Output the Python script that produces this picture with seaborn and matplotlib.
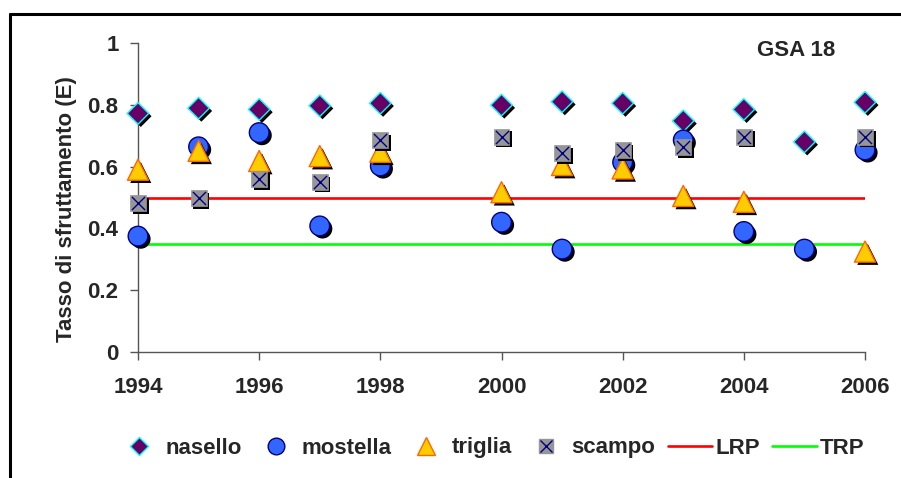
import numpy as np
import pandas as pd
import seaborn as sns
from matplotlib import pyplot as plt
from matplotlib.lines import Line2D
import matplotlib.patheffects as pe

# dati (1999 mancante per tutte le specie)
anni = [1994, 1995, 1996, 1997, 1998, 2000, 2001, 2002, 2003, 2004, 2005, 2006]
nasello = [0.772, 0.789, 0.785, 0.797, 0.805, 0.799, 0.810, 0.805, 0.748, 0.785, 0.680, 0.808]
mostella = [0.375, 0.664, 0.710, 0.408, 0.602, 0.420, 0.333, 0.614, 0.686, 0.390, 0.333, 0.654]
triglia = [0.590, 0.651, 0.618, 0.634, 0.648, 0.517, 0.605, 0.594, 0.505, 0.486, np.nan, 0.325]
scampo = [0.481, 0.499, 0.560, 0.551, 0.686, 0.697, 0.643, 0.654, 0.664, 0.697, np.nan, 0.697]
lrp = [0.5, 0.5]
trp = [0.35, 0.35]
anni_rif = [1994, 2006]

sns.set_style('white')
plt.rcParams['font.family'] = ['Liberation Sans', 'DejaVu Sans']
plt.rcParams['font.weight'] = 'bold'
FS = 16

df = pd.DataFrame({'anno': anni, 'nasello': nasello, 'mostella': mostella,
                   'triglia': triglia, 'scampo': scampo})

fig = plt.figure(figsize=(9.01, 4.78), dpi=100)
ax = fig.add_axes([138/901, 1-352/478, 727/901, 309/478])

ombra = [pe.SimplePatchShadow(offset=(2, -2), shadow_rgbFace='black', alpha=1), pe.Normal()]

# linee di riferimento
sns.lineplot(x=anni_rif, y=lrp, color='#FF0000', linewidth=1.9, ax=ax, zorder=2)
sns.lineplot(x=anni_rif, y=trp, color='#00FF00', linewidth=1.9, ax=ax, zorder=2)

# specie
sns.scatterplot(data=df, x='anno', y='nasello', marker='D', s=120, color='#660066',
                edgecolor='#00FFFF', linewidth=1, ax=ax, zorder=3)
ax.collections[-1].set_path_effects(ombra)
sns.scatterplot(data=df, x='anno', y='mostella', marker='o', s=200, color='#3366FF',
                edgecolor='#000080', linewidth=1, ax=ax, zorder=4)
ax.collections[-1].set_path_effects(ombra)
sns.scatterplot(data=df, x='anno', y='triglia', marker='^', s=230, color='#FFCC00',
                edgecolor='#FF6600', linewidth=1, ax=ax, zorder=5)
ax.collections[-1].set_path_effects(ombra)
sns.scatterplot(data=df, x='anno', y='scampo', marker='s', s=130, color='#969696',
                edgecolor='#969696', linewidth=0.5, ax=ax, zorder=6)
ax.collections[-1].set_path_effects(ombra)
sns.scatterplot(data=df, x='anno', y='scampo', marker='x', s=90, color='#000080',
                linewidth=1, ax=ax, zorder=7)
for c in ax.collections:
    c.set_clip_on(False)

ax.set_xlim(1994, 2006)
ax.set_ylim(0, 1)
ax.set_xticks(range(1994, 2007, 2))
ax.set_yticks([0, 0.2, 0.4, 0.6, 0.8, 1])
ax.set_yticklabels(['0', '0.2', '0.4', '0.6', '0.8', '1'])
ax.set_xlabel('')
ax.set_ylabel('Tasso di sfruttamento (E)', fontsize=FS, fontweight='bold', va='center')
ax.yaxis.set_label_coords(-0.099, 0.461)
ax.tick_params(axis='both', labelsize=FS, length=6, width=1, color='#555555', direction='out')
ax.tick_params(axis='x', pad=12)
ax.tick_params(axis='y', pad=8)
ax.tick_params(bottom=True, left=True)
sns.despine(ax=ax)
for s in ['left', 'bottom']:
    ax.spines[s].set_color('#555555')
    ax.spines[s].set_linewidth(1)

ax.text(757/901, 1-50/478, 'GSA 18', transform=fig.transFigure, fontsize=FS,
        fontweight='bold', va='center', ha='left')

# legenda in basso
h_nas = Line2D([], [], linestyle='none', marker='D', markersize=9, markerfacecolor='#660066',
               markeredgecolor='#00FFFF', markeredgewidth=1)
h_mos = Line2D([], [], linestyle='none', marker='o', markersize=12, markerfacecolor='#3366FF',
               markeredgecolor='#000080', markeredgewidth=1)
h_tri = Line2D([], [], linestyle='none', marker='^', markersize=13, markerfacecolor='#FFCC00',
               markeredgecolor='#FF6600', markeredgewidth=1)
h_sq = Line2D([], [], linestyle='none', marker='s', markersize=10, markerfacecolor='#969696',
              markeredgecolor='#969696')
h_x = Line2D([], [], linestyle='none', marker='x', markersize=9, markeredgecolor='#000080',
             markeredgewidth=1)
h_lrp = Line2D([], [], color='#FF0000', linewidth=1.9)
h_trp = Line2D([], [], color='#00FF00', linewidth=1.9)
fig.legend([h_nas, h_mos, h_tri, (h_sq, h_x), h_lrp, h_trp],
           ['nasello', 'mostella', 'triglia', 'scampo', 'LRP', 'TRP'],
           loc='center', bbox_to_anchor=(491/901, 1-448/478), ncol=6, frameon=False,
           prop={'size': FS, 'weight': 'bold'}, handlelength=2.0, handletextpad=0.15,
           columnspacing=0.55)

# cornice esterna
fig.add_artist(Line2D([10/901, 10/901], [0, 1-14/478], color='black', linewidth=2.2,
                      transform=fig.transFigure))
fig.add_artist(Line2D([10/901, 1], [1-14/478, 1-14/478], color='black', linewidth=2.2,
                      transform=fig.transFigure))

fig.savefig('out.png', dpi=100)
